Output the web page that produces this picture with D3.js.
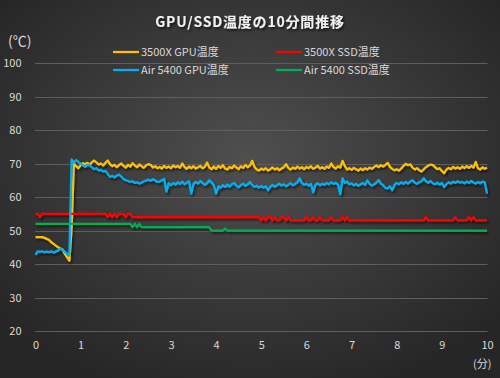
<!DOCTYPE html>
<html>
<head>
<meta charset="utf-8">
<script src="https://cdn.jsdelivr.net/npm/d3@7"></script>
<style>
  html, body { margin: 0; padding: 0; background: #333; }
  #chart { width: 500px; height: 378px; }
  text { font-family: "Noto Sans CJK JP", "Noto Sans", sans-serif; }
</style>
</head>
<body>
<div id="chart"></div>
<script>
// one sample every 3 seconds (0.05 min), 0 - 10 min
const sampleMinutes = 0.05;

const gpu3500x = [
  48, 48, 48, 48, 47.8, 47.5, 47.2, 46.5, 46, 45.5, 45, 44.6, 44.3, 43, 42, 41, 51, 70, 69.2, 68.6,
  69.5, 70.1, 69.8, 70.2, 69.6, 70.4, 70.9, 70.3, 69.7, 70.0, 69.4, 70.2, 70.9, 69.8, 69.2, 69.6, 68.9, 69.5, 70.0, 69.3,
  68.8, 69.6, 69.1, 70.1, 69.4, 68.9, 69.7, 69.2, 68.7, 69.5, 69.8, 69.6, 68.8, 69.2, 68.6, 69.0, 68.5, 69.3, 68.7, 69.1,
  68.6, 69.4, 68.9, 69.3, 68.7, 70.0, 69.0, 68.4, 69.1, 68.6, 69.2, 68.5, 68.9, 69.3, 68.6, 69.0, 70.3, 68.8, 68.3, 69.1,
  68.4, 69.3, 68.7, 69.5, 68.5, 68.2, 69.0, 68.6, 69.4, 68.8, 68.3, 69.2, 68.7, 69.6, 68.9, 69.4, 70.8, 69.0, 68.2, 67.9,
  68.5, 68.1, 68.6, 67.9, 68.3, 68.8, 68.2, 68.6, 68.0, 68.5, 68.9, 69.8, 68.7, 68.2, 68.8, 68.4, 69.1, 68.5, 68.9, 68.3,
  69.0, 68.6, 69.2, 68.4, 68.8, 69.3, 68.5, 68.9, 68.4, 69.1, 68.7, 70.0, 69.0, 68.5, 69.2, 68.8, 70.8, 69.3, 68.2, 68.6,
  68.1, 68.7, 68.3, 67.9, 68.5, 68.0, 68.6, 68.2, 68.8, 68.4, 69.0, 69.4, 68.9, 69.5, 69.1, 69.6, 70.2, 69.0, 68.4, 68.0,
  68.3, 67.9, 68.5, 69.3, 69.9, 69.5, 69.8, 68.8, 68.2, 68.6, 68.0, 67.6, 68.3, 68.9, 69.4, 69.7, 69.5, 68.9, 68.3, 68.6,
  67.8, 67.1, 68.2, 68.7, 68.3, 69.0, 68.5, 68.9, 68.4, 69.1, 68.6, 69.2, 68.7, 69.3, 68.8, 70.5, 68.6, 68.2, 68.9, 68.4,
  68.8
];

const ssd3500x = [
  55, 55, 54, 55, 55, 55, 55, 55, 55, 55, 55, 55, 55, 55, 55, 55, 55, 55, 55, 55,
  55, 55, 55, 55, 55, 55, 55, 55, 55, 55, 55, 55, 54, 55, 54, 55, 54, 55, 55, 55,
  54, 55, 55, 54, 54, 54, 54, 54, 54, 54, 54, 54, 54, 54, 54, 54, 54, 54, 54, 54,
  54, 54, 54, 54, 54, 54, 54, 54, 54, 54, 54, 54, 54, 54, 54, 54, 54, 54, 54, 54,
  54, 54, 54, 54, 54, 54, 54, 54, 54, 54, 54, 54, 54, 54, 54, 54, 54, 54, 54, 54,
  53, 54, 53, 54, 54, 53, 54, 53, 53, 54, 54, 53, 54, 53, 53, 53, 53, 53, 53, 53,
  54, 53, 53, 54, 53, 53, 54, 53, 53, 53, 53, 54, 53, 53, 53, 53, 54, 53, 54, 53,
  53, 53, 53, 53, 53, 53, 53, 53, 53, 53, 53, 53, 53, 53, 53, 53, 53, 53, 53, 53,
  53, 53, 53, 53, 53, 53, 53, 53, 53, 53, 53, 53, 53, 54, 53, 53, 53, 53, 53, 53,
  53, 53, 53, 53, 53, 53, 54, 53, 53, 53, 53, 53, 54, 53, 54, 53, 53, 53, 53, 53,
  53
];

const gpuAir5400 = [
  42.7, 43.8, 43.6, 43.8, 43.5, 43.7, 43.5, 43.8, 43.4, 43.7, 44.0, 44.6, 44.2, 43.6, 43.0, 42.6, 71.2, 70.3, 71.0, 70.4,
  70.0, 69.4, 69.0, 69.6, 69.5, 68.8, 68.3, 68.6, 67.9, 68.1, 67.6, 67.8, 66.9, 66.0, 66.3, 65.9, 66.4, 66.7, 66.1, 65.4,
  65.0, 64.8, 64.5, 64.7, 64.2, 64.4, 64.0, 64.3, 64.7, 64.9, 65.2, 64.8, 65.3, 64.9, 64.5, 64.6, 65.0, 65.4, 61.6, 64.1,
  63.5, 64.2, 63.7, 64.4, 63.9, 64.6, 63.8, 64.3, 64.7, 61.0, 63.9, 64.5, 64.0, 64.8, 64.2, 63.6, 64.1, 65.0, 64.3, 63.5,
  61.0, 63.2, 62.8, 63.5, 63.0, 63.7, 63.1, 63.9, 64.2, 63.4, 62.9, 63.6, 64.0, 63.3, 63.8, 64.5, 63.6, 63.0, 63.4, 62.8,
  63.3, 62.7, 63.2, 62.0, 63.1, 63.6, 63.0, 63.5, 64.0, 63.4, 63.8, 63.2, 63.7, 64.1, 63.5, 63.9, 64.4, 65.6, 64.2, 63.6,
  64.0, 63.4, 63.9, 61.4, 63.7, 64.1, 63.5, 64.0, 63.6, 64.2, 63.8, 64.4, 63.9, 64.3, 63.7, 60.8, 65.6, 64.2, 64.6, 63.8,
  64.1, 63.5, 63.9, 63.3, 63.8, 64.2, 63.6, 65.0, 63.9, 63.4, 63.8, 64.3, 65.1, 64.0, 63.5, 62.7, 62.6, 63.2, 62.0, 63.6,
  64.2, 63.8, 64.4, 63.9, 64.5, 64.0, 64.6, 65.0, 64.3, 63.9, 64.4, 64.8, 65.6, 64.7, 64.2, 64.8, 64.1, 63.8, 64.3, 63.7,
  64.2, 63.0, 63.8, 64.4, 64.0, 64.6, 64.2, 64.7, 64.3, 64.5, 64.1, 64.6, 64.2, 64.8, 64.3, 64.0, 64.5, 64.1, 64.6, 64.4,
  61.0
];

const ssdAir5400 = [
  52, 52, 52, 52, 52, 52, 52, 52, 52, 52, 52, 52, 52, 52, 52, 52, 52, 52, 52, 52,
  52, 52, 52, 52, 52, 52, 52, 52, 52, 52, 52, 52, 52, 52, 52, 52, 52, 52, 52, 52,
  52, 52, 52, 51, 52, 51, 52, 51, 51, 51, 51, 51, 51, 51, 51, 51, 51, 51, 51, 51,
  51, 51, 51, 51, 51, 51, 51, 51, 51, 51, 51, 51, 51, 51, 51, 51, 51, 51, 50, 50,
  50, 50, 50, 50, 50.6, 50, 50, 50, 50, 50, 50, 50, 50, 50, 50, 50, 50, 50, 50, 50,
  50, 50, 50, 50, 50, 50, 50, 50, 50, 50, 50, 50, 50, 50, 50, 50, 50, 50, 50, 50,
  50, 50, 50, 50, 50, 50, 50, 50, 50, 50, 50, 50, 50, 50, 50, 50, 50, 50, 50, 50,
  50, 50, 50, 50, 50, 50, 50, 50, 50, 50, 50, 50, 50, 50, 50, 50, 50, 50, 50, 50,
  50, 50, 50, 50, 50, 50, 50, 50, 50, 50, 50, 50, 50, 50, 50, 50, 50, 50, 50, 50,
  50, 50, 50, 50, 50, 50, 50, 50, 50, 50, 50, 50, 50, 50, 50, 50, 50, 50, 50, 50,
  50
];

const seriesNames = ["3500X GPU温度", "3500X SSD温度", "Air 5400 GPU温度", "Air 5400 SSD温度"];
const seriesValues = [gpu3500x, ssd3500x, gpuAir5400, ssdAir5400];
const seriesColors = ["#ffc000", "#ff0000", "#00b0f0", "#00b050"];
const xTicks = [0, 1, 2, 3, 4, 5, 6, 7, 8, 9, 10];
const yTicks = [20, 30, 40, 50, 60, 70, 80, 90, 100];
const title = "GPU/SSD温度の10分間推移";
const yUnit = "(℃)";
const xUnit = "(分)";

const width = 500, height = 378;
const pad = { t: 63, b: 47, s: 35.5, e: 13 };
const textColor = "#d9d9d9";

const svg = d3.select("#chart").append("svg").attr("width", width).attr("height", height);
const defs = svg.append("defs");

const bg = defs.append("radialGradient").attr("id", "bg")
  .attr("cx", "50%").attr("cy", "42%").attr("r", "65%");
bg.append("stop").attr("offset", "0%").attr("stop-color", "#4f4f4f");
bg.append("stop").attr("offset", "100%").attr("stop-color", "#262626");

const shadow = defs.append("filter").attr("id", "shadow")
  .attr("x", "-10%").attr("y", "-10%").attr("width", "120%").attr("height", "130%");
shadow.append("feDropShadow").attr("dx", 1.5).attr("dy", 2).attr("stdDeviation", 1.3)
  .attr("flood-color", "#000").attr("flood-opacity", 0.6);

svg.append("rect").attr("width", width).attr("height", height).attr("fill", "url(#bg)");

const x = d3.scaleLinear().domain([0, 10]).range([pad.s, width - pad.e]);
const y = d3.scaleLinear().domain([20, 100]).range([height - pad.b, pad.t]);

// gridlines
svg.append("g").selectAll("line").data(yTicks).enter().append("line")
  .attr("x1", pad.s - 0.5).attr("x2", width - pad.e + 0.5)
  .attr("y1", (d) => Math.round(y(d)) + 0.5).attr("y2", (d) => Math.round(y(d)) + 0.5)
  .attr("stroke", "#5e5e5e").attr("stroke-width", 1);

const yAxis_g = svg.append("g").attr("transform", `translate(${pad.s}, 0)`)
  .call(d3.axisLeft(y).tickValues(yTicks).tickSize(0).tickPadding(14));
const xAxis_g = svg.append("g").attr("transform", `translate(0, ${height - pad.b})`)
  .call(d3.axisBottom(x).tickValues(xTicks).tickSize(0).tickPadding(10));
[yAxis_g, xAxis_g].forEach((g) => {
  g.select(".domain").remove();
  g.selectAll("text").attr("fill", textColor).attr("font-size", 11)
    .style("font-family", '"Noto Sans CJK JP", sans-serif');
});

// series lines
const line = d3.line()
  .x((d, i) => x(i * sampleMinutes))
  .y((d) => y(d));
const lines_g = svg.append("g").attr("filter", "url(#shadow)");
lines_g.selectAll("path").data(seriesValues).enter().append("path")
  .attr("d", line)
  .attr("fill", "none")
  .attr("stroke", (d, i) => seriesColors[i])
  .attr("stroke-width", 2.25)
  .attr("stroke-linejoin", "round");

// title
svg.append("text")
  .attr("x", width / 2).attr("y", 27)
  .attr("text-anchor", "middle")
  .attr("font-size", 14).attr("font-weight", "bold")
  .attr("letter-spacing", 0.8)
  .attr("fill", "#f2f2f2")
  .attr("filter", "url(#shadow)")
  .text(title);

svg.append("text").attr("x", 8).attr("y", 46)
  .attr("font-size", 14).attr("fill", textColor).text(yUnit);
svg.append("text").attr("x", 473).attr("y", 368)
  .attr("font-size", 11).attr("fill", textColor).text(xUnit);

// legend
const legendPos = [[113, 52], [276, 52], [113, 70], [276, 70]];
const legend = svg.append("g").selectAll("g").data(seriesNames).enter().append("g")
  .attr("transform", (d, i) => `translate(${legendPos[i][0]}, ${legendPos[i][1]})`);
legend.append("line")
  .attr("x1", 0).attr("x2", 26)
  .attr("stroke", (d, i) => seriesColors[i]).attr("stroke-width", 2.25);
legend.append("text")
  .attr("x", 28).attr("dy", "0.35em")
  .attr("font-size", 11).attr("fill", textColor)
  .text((d) => d);
</script>
</body>
</html>
